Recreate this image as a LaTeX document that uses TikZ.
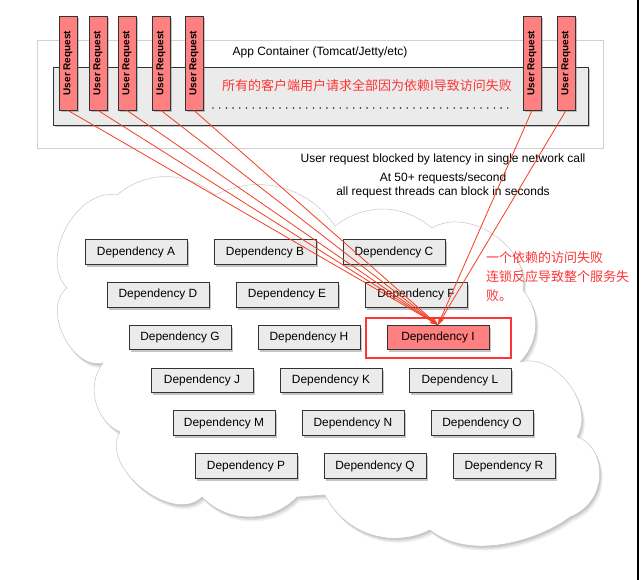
\documentclass[tikz,border=0pt]{standalone}
\usepackage{fontspec}
\setmainfont{Liberation Sans}
\newfontfamily\cjk{Noto Sans CJK SC}
\usetikzlibrary{shadows,arrows.meta}

\definecolor{reqred}{RGB}{255,128,128}
\definecolor{linered}{RGB}{245,62,35}
\definecolor{txtred}{RGB}{255,52,52}
\definecolor{boxgray}{RGB}{235,235,235}
\definecolor{edgegray}{RGB}{51,51,51}
\tikzset{px/.style={x=1pt,y=-1pt}}
\tikzset{soft/.style={drop shadow={shadow xshift=1.5pt,shadow yshift=-2.5pt,opacity=.45}},
         haze/.style={preaction={fill=black,opacity=.10,transform canvas={xshift=1pt,yshift=-1.5pt}},
                      preaction={fill=black,opacity=.08,transform canvas={xshift=2pt,yshift=-3pt}},
                      preaction={fill=black,opacity=.06,transform canvas={xshift=3pt,yshift=-4.5pt}}},
         dep/.style={draw=edgegray,line width=.9pt,minimum width=102pt,minimum height=24.5pt,
                     inner sep=0pt,font=\fontsize{11.9}{14}\selectfont,soft},
         req/.style={draw=edgegray,fill=reqred,line width=.9pt,rotate=90,minimum width=94pt,
                     minimum height=18pt,inner sep=0pt,font=\fontsize{10}{12}\selectfont\bfseries,soft},
         hit/.style={linered,line width=.8pt,-{Stealth[length=8pt,width=5pt]}}}

\begin{document}
\begin{tikzpicture}[px]
    \useasboundingbox (0,0) rectangle (641,580);
    % app container
    \draw[black!18,fill=white] (37,40) rectangle (603,148);
    \node[font=\fontsize{12}{14}\selectfont] (applbl) at (320,52) {App Container (Tomcat/Jetty/etc)};
    \draw[edgegray,fill=boxgray,line width=.9pt,soft] (53,67) rectangle (588,125);
    \node[txtred,font=\cjk\fontsize{13}{15}\selectfont] (allfail) at (367,86) {所有的客户端用户请求全部因为依赖I导致访问失败};
    \draw[edgegray,line width=1.8pt,line cap=round,dash pattern=on 0pt off 6.7pt] (213,108) -- (512,108);
    \foreach \x [count=\k] in {68,98,127,161,194,532,566}
        \node[req] (u\k) at (\x,63) {User Request};
    \node[font=\fontsize{12}{14}\selectfont] (blocked) at (443,159) {User request blocked by latency in single network call};
    \node[font=\fontsize{12}{14}\selectfont,align=center] (rate) at (443,185) {At 50+ requests/second\\all request threads can block in seconds};
    % cloud of dependencies
    \path[fill=white,draw=black!22,line width=.5pt,haze]
        (67,288) to[bend left=72] (117,195) to[bend left=40] (215,195) to[bend left=41] (335,226)
        to[bend left=39] (432,228) to[bend left=65] (523,290) to[bend left=42] (520,362)
        to[bend left=68] (577,437) .. controls (605,445) and (612,500) .. (570,517)
        .. controls (540,540) and (470,562) .. (430,530) to[bend left=45] (325,495) -- (297,497)
        to[bend left=46] (202,497) to[bend left=83] (120,432) to[bend left=52] (103,363)
        to[bend left=78] (67,288) -- cycle;
    \foreach \l [count=\i from 0] in {A,...,R} {
        \pgfmathtruncatemacro\row{\i/3}
        \pgfmathtruncatemacro\col{mod(\i,3)}
        \ifnum\i=8 \def\fc{reqred}\else\def\fc{boxgray}\fi
        \node[dep,fill=\fc] (dep\l) at ({136+22*\row+129*\col},{252+42.8*\row}) {Dependency \l};
    }
    \draw[txtred,line width=2.6pt] (366,318) rectangle (511,358);
    \foreach \k in {1,...,7}
        \draw[hit] (u\k.west) -- (depI.north);
    \node[txtred,font=\cjk\fontsize{13}{19}\selectfont,align=left,anchor=north west,inner sep=0pt] (chain) at (486,251)
        {一个依赖的访问失败\\连锁反应导致整个服务失\\败。};
    \draw[line width=1.5pt] (638,0) -- (638,580);
\end{tikzpicture}
\end{document}
